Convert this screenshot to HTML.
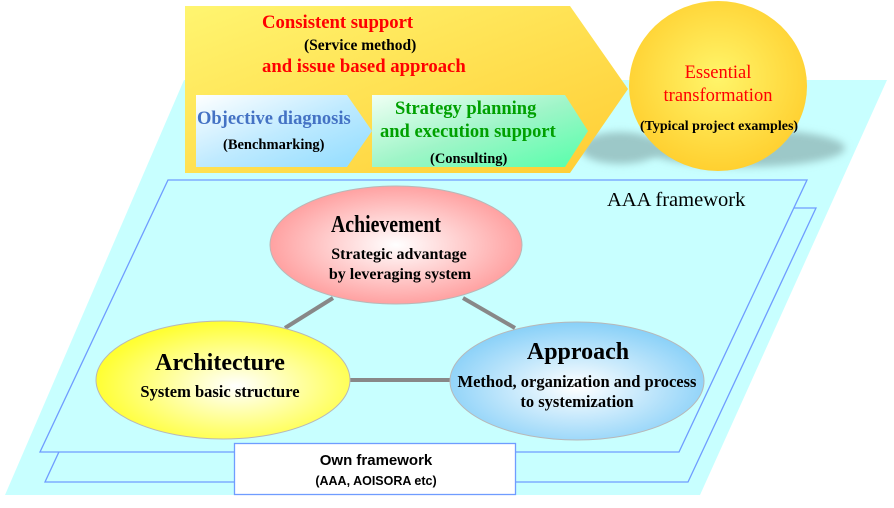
<!DOCTYPE html>
<html><head><meta charset="utf-8"><style>
html,body{margin:0;padding:0;background:#fff;}
svg{display:block;}
.s{font-family:"Liberation Serif",serif;font-weight:bold;}
</style></head><body>
<svg width="894" height="508" viewBox="0 0 894 508" xmlns="http://www.w3.org/2000/svg">
<defs>
<linearGradient id="yg" x1="0" y1="0" x2="1" y2="1">
<stop offset="0" stop-color="#FFF570"/><stop offset="1" stop-color="#FFCC33"/></linearGradient>
<linearGradient id="bg" x1="0" y1="0" x2="1" y2="1">
<stop offset="0" stop-color="#ffffff"/><stop offset="0.5" stop-color="#bfeaff"/><stop offset="1" stop-color="#8fdcff"/></linearGradient>
<linearGradient id="gg" x1="0" y1="0" x2="1" y2="1">
<stop offset="0" stop-color="#f0fff4"/><stop offset="0.5" stop-color="#9ff5c8"/><stop offset="1" stop-color="#55ffaa"/></linearGradient>
<radialGradient id="cg" cx="0.5" cy="0.45" r="0.55">
<stop offset="0" stop-color="#FFF56A"/><stop offset="1" stop-color="#FFD030"/></radialGradient>
<radialGradient id="rg" cx="0.5" cy="0.5" r="0.55">
<stop offset="0" stop-color="#ffffff"/><stop offset="1" stop-color="#ff9898"/></radialGradient>
<radialGradient id="ylg" cx="0.55" cy="0.55" r="0.55">
<stop offset="0" stop-color="#ffffff"/><stop offset="1" stop-color="#ffff33"/></radialGradient>
<radialGradient id="blg" cx="0.5" cy="0.55" r="0.55">
<stop offset="0" stop-color="#ffffff"/><stop offset="1" stop-color="#88d0f8"/></radialGradient>
<filter id="bl" x="-50%" y="-50%" width="200%" height="200%"><feGaussianBlur stdDeviation="4"/></filter>
</defs>
<polygon points="184,80 887,80 700,495 5,495" fill="#C8FFFF"/>
<polygon points="816,208 688,482 45,482 172,208" fill="#C8FFFF" stroke="#6f9cff" stroke-width="1.3"/>
<polygon points="168,180 807,180 679,452 40,452" fill="#C8FFFF" stroke="#6f9cff" stroke-width="1.3"/>
<ellipse cx="745" cy="148" rx="100" ry="19" fill="#9cc8c8" filter="url(#bl)"/>
<ellipse cx="620" cy="148" rx="40" ry="16" fill="#9cc8c8" filter="url(#bl)"/>
<polygon points="185,6 570,6 628,89 570,173 185,173" fill="url(#yg)"/>
<ellipse cx="718" cy="86" rx="89" ry="85" fill="url(#cg)"/>
<polygon points="196,95 347,95 372,131 347,167 196,167" fill="url(#bg)"/>
<polygon points="372,95 565,95 588,131 565,167 372,167" fill="url(#gg)"/>
<text class="s" x="262" y="28" font-size="18.7" fill="#FF0000">Consistent support</text>
<text class="s" x="304" y="50" font-size="15.5" fill="#000">(Service method)</text>
<text class="s" x="262" y="72" font-size="18.7" fill="#FF0000">and issue based approach</text>
<text class="s" x="197" y="124" font-size="18.5" fill="#4472C4">Objective diagnosis</text>
<text class="s" x="223" y="149" font-size="14.5" fill="#000">(Benchmarking)</text>
<text class="s" x="395" y="114" font-size="18.5" fill="#00A000">Strategy planning</text>
<text class="s" x="380" y="137" font-size="18.5" fill="#00A000">and execution support</text>
<text class="s" x="430" y="163" font-size="14.5" fill="#000">(Consulting)</text>
<g font-family="Liberation Serif,serif" text-anchor="middle">
<text x="718" y="78" font-size="18.5" fill="#FF0000">Essential</text>
<text x="718" y="101" font-size="18.5" fill="#FF0000">transformation</text>
<text x="719" y="130" font-size="14" font-weight="bold" fill="#000">(Typical project examples)</text>
</g>
<text x="607" y="206" font-family="Liberation Serif,serif" font-size="20.5" fill="#000">AAA framework</text>
<g stroke="#888" stroke-width="4">
<line x1="333" y1="298" x2="285" y2="328"/>
<line x1="463" y1="298" x2="515" y2="328"/>
<line x1="348" y1="380" x2="452" y2="380"/>
</g>
<ellipse cx="396" cy="245" rx="126" ry="59" fill="url(#rg)" stroke="#b8b8b8" stroke-width="1"/>
<ellipse cx="223" cy="380" rx="127" ry="59" fill="url(#ylg)" stroke="#b8b8b8" stroke-width="1"/>
<ellipse cx="577" cy="381" rx="127" ry="59" fill="url(#blg)" stroke="#b8b8b8" stroke-width="1"/>
<g class="s" fill="#000">
<text x="331" y="232" font-size="24" textLength="110" lengthAdjust="spacingAndGlyphs">Achievement</text>
</g>
<g class="s" text-anchor="middle" fill="#000">
<text x="399" y="259" font-size="16">Strategic advantage</text>
<text x="400" y="279" font-size="16">by leveraging system</text>
<text x="220" y="370" font-size="24">Architecture</text>
<text x="220" y="397" font-size="16.5">System basic structure</text>
<text x="578" y="359" font-size="24">Approach</text>
<text x="577" y="387" font-size="16.5">Method, organization and process</text>
<text x="577" y="407" font-size="16.5">to systemization</text>
</g>
<rect x="234.5" y="443.5" width="281" height="51" fill="#fff" stroke="#6f9cff" stroke-width="1.3"/>
<g font-family="Liberation Sans,sans-serif" font-weight="bold" text-anchor="middle" fill="#000">
<text x="376" y="465" font-size="15">Own framework</text>
<text x="376" y="485" font-size="12.5">(AAA, AOISORA etc)</text>
</g>
</svg>
</body></html>
